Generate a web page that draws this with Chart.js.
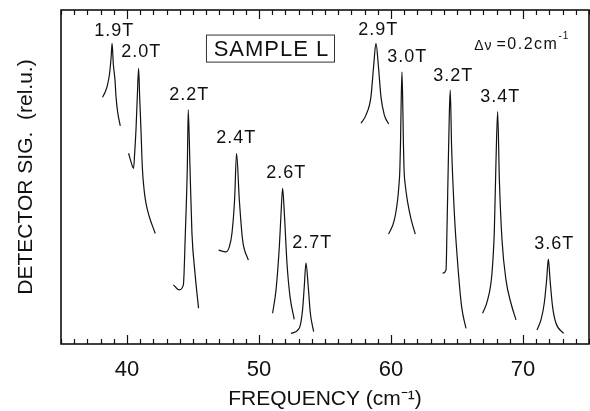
<!DOCTYPE html>
<html>
<head>
  <meta charset="utf-8">
  <title>SAMPLE L</title>
  <script src="https://cdn.jsdelivr.net/npm/chart.js"></script>
  <style>
    html, body { margin: 0; padding: 0; background: #fff; }
    #wrap { width: 590px; height: 411px; }
  </style>
</head>
<body>
<div id="wrap"><canvas id="chart" width="590" height="411"></canvas></div>
<script>
  // 磁場ごとのピーク (x: cm-1, y: 相対値)
  const fields = ['1.9T', '2.0T', '2.2T', '2.4T', '2.6T', '2.7T', '2.9T', '3.0T', '3.2T', '3.4T', '3.6T'];

  const p19x = [38.15, 38.32, 38.52, 38.68, 38.80, 38.87, 38.96, 39.09, 39.17, 39.29, 39.49];
  const p19y = [73.9, 75.2, 77.5, 81.0, 86.0, 90.0, 84.0, 79.0, 74.0, 69.5, 65.3];
  const p20x = [40.12, 40.30, 40.50, 40.58, 40.68, 40.78, 40.88, 40.96, 41.06, 41.16, 41.30, 41.44, 41.69, 42.14];
  const p20y = [57.1, 54.6, 52.6, 57.1, 64.1, 74.0, 82.5, 74.0, 64.1, 53.0, 46.0, 42.1, 38.1, 33.1];
  const p22x = [43.51, 43.96, 44.27, 44.42, 44.57, 44.64, 44.77, 44.92, 45.15, 45.42];
  const p22y = [17.7, 16.2, 17.7, 33.2, 53.1, 70.1, 53.1, 33.2, 21.3, 10.7];
  const p24x = [46.94, 47.50, 47.75, 47.95, 48.15, 48.30, 48.51, 48.76, 49.19];
  const p24y = [28.1, 27.6, 29.1, 33.1, 43.1, 57.1, 43.1, 31.1, 25.1];
  const p26x = [51.03, 51.29, 51.54, 51.67, 51.79, 51.92, 52.12, 52.35, 52.67];
  const p26y = [9.2, 16.2, 29.1, 39.1, 46.6, 39.1, 24.2, 14.2, 7.4];
  const p27x = [52.42, 53.05, 53.30, 53.43, 53.56, 53.73, 53.89, 54.14];
  const p27y = [3.2, 4.7, 10.2, 17.2, 24.3, 17.2, 9.2, 3.7];
  const p29x = [57.73, 58.11, 58.48, 58.68, 58.86, 59.05, 59.24, 59.49, 59.82];
  const p29y = [66.1, 68.6, 74.0, 83.0, 90.0, 83.0, 74.0, 68.6, 65.9];
  const p30x = [59.82, 60.25, 60.50, 60.58, 60.67, 60.72, 60.76, 60.83, 60.90, 60.94, 60.99, 61.08, 61.26, 61.52, 61.84];
  const p30y = [32.9, 37.1, 43.1, 46.5, 52.0, 60.0, 70.0, 81.5, 70.0, 60.0, 52.0, 47.6, 42.5, 37.4, 32.9];
  const p32x = [63.91, 64.17, 64.24, 64.34, 64.42, 64.49, 64.59, 64.80, 65.05, 65.35, 65.68];
  const p32y = [21.2, 22.2, 34.1, 54.1, 69.1, 76.0, 59.1, 39.1, 24.2, 11.2, 4.7];
  const p34x = [66.94, 67.32, 67.65, 67.83, 67.95, 68.08, 68.21, 68.41, 68.71, 69.09, 69.47];
  const p34y = [9.2, 13.2, 21.2, 34.1, 54.1, 69.6, 49.1, 31.1, 19.2, 12.2, 7.2];
  const p36x = [71.06, 71.36, 71.61, 71.79, 71.92, 72.05, 72.24, 72.50, 73.08];
  const p36y = [4.2, 7.2, 12.2, 19.2, 25.4, 19.2, 11.2, 6.2, 3.2];

  const peakXs = [p19x, p20x, p22x, p24x, p26x, p27x, p29x, p30x, p32x, p34x, p36x];
  const peakYs = [p19y, p20y, p22y, p24y, p26y, p27y, p29y, p30y, p32y, p34y, p36y];

  // ラベル位置 (データ座標)
  const labelX = [39.04, 41.08, 44.72, 48.28, 52.07, 54.04, 59.04, 61.23, 64.72, 68.28, 72.37];
  const labelY = [93.7, 87.4, 74.6, 61.7, 51.2, 30.2, 94.0, 85.9, 80.2, 74.0, 29.9];

  const xTickLabels = [40, 50, 60, 70];

  const FONT = "'Liberation Sans', Arial, sans-serif";

  const datasets = fields.map((name, i) => ({
    label: name,
    data: peakXs[i].map((x, j) => ({ x: x, y: peakYs[i][j] })),
    borderColor: '#111',
    borderWidth: 1.2,
    pointRadius: 0,
    fill: false,
    cubicInterpolationMode: 'monotone'
  }));

  // 枠と内向きの目盛り
  const framePlugin = {
    id: 'frame',
    afterDraw(chart) {
      const ctx = chart.ctx;
      const a = chart.chartArea;
      const xs = chart.scales.x;
      ctx.save();
      ctx.strokeStyle = '#111';
      ctx.lineWidth = 1.6;
      ctx.strokeRect(a.left, a.top, a.right - a.left, a.bottom - a.top);
      ctx.lineWidth = 1.2;
      for (let v = 35; v <= 75; v++) {
        const px = Math.round(xs.getPixelForValue(v)) + 0.5;
        const len = v % 10 === 0 ? 9 : 5;
        ctx.beginPath();
        ctx.moveTo(px, a.bottom);
        ctx.lineTo(px, a.bottom - len);
        ctx.moveTo(px, a.top);
        ctx.lineTo(px, a.top + len);
        ctx.stroke();
      }
      ctx.restore();
    }
  };

  // ピーク名・試料名・分解能
  const notesPlugin = {
    id: 'notes',
    afterDatasetsDraw(chart) {
      const ctx = chart.ctx;
      const xs = chart.scales.x, ys = chart.scales.y;
      ctx.save();
      ctx.fillStyle = '#111';
      ctx.textAlign = 'center';
      ctx.textBaseline = 'middle';
      ctx.font = '18px ' + FONT;
      ctx.letterSpacing = '1px';
      fields.forEach((name, i) => {
        ctx.fillText(name, xs.getPixelForValue(labelX[i]), ys.getPixelForValue(labelY[i]));
      });

      // SAMPLE L の枠
      const bx1 = xs.getPixelForValue(46.02), bx2 = xs.getPixelForValue(55.72);
      const by1 = ys.getPixelForValue(92.5), by2 = ys.getPixelForValue(84.4);
      ctx.strokeStyle = '#333';
      ctx.lineWidth = 1;
      ctx.strokeRect(bx1, by1, bx2 - bx1, by2 - by1);
      ctx.font = '22px ' + FONT;
      ctx.letterSpacing = '1px';
      ctx.fillText('SAMPLE L', (bx1 + bx2) / 2 + 1, (by1 + by2) / 2 + 1);

      // Δν = 0.2cm-1
      ctx.textAlign = 'left';
      ctx.letterSpacing = '1px';
      let tx = xs.getPixelForValue(66.30);
      const ty = ys.getPixelForValue(89.3);
      ctx.font = '14px ' + FONT;
      ctx.fillText('Δν', tx, ty);
      tx += ctx.measureText('Δν').width + 4;
      ctx.font = '16px ' + FONT;
      ctx.letterSpacing = '1.5px';
      ctx.fillText('=0.2cm', tx, ty - 1);
      tx += ctx.measureText('=0.2cm').width;
      ctx.font = '10px ' + FONT;
      ctx.letterSpacing = '1px';
      ctx.fillText('-1', tx, ty - 9);
      ctx.restore();
    }
  };

  new Chart(document.getElementById('chart'), {
    type: 'line',
    data: { datasets: datasets },
    options: {
      responsive: false,
      animation: false,
      devicePixelRatio: 1,
      layout: { padding: { top: 10, right: 1, left: 0, bottom: 0 } },
      plugins: { legend: { display: false }, tooltip: { enabled: false } },
      scales: {
        x: {
          type: 'linear',
          min: 35,
          max: 75,
          afterBuildTicks: s => { s.ticks = xTickLabels.map(v => ({ value: v })); },
          afterFit: s => { s.height = 67; },
          grid: { display: false, drawTicks: false },
          border: { display: false },
          ticks: { color: '#111', padding: 13, font: { size: 22, family: FONT } },
          title: {
            display: true,
            text: 'FREQUENCY (cm⁻¹)',
            color: '#111',
            font: { size: 21, family: FONT, lineHeight: 1.1 },
            padding: { top: 0, bottom: 0 }
          }
        },
        y: {
          min: 0,
          max: 100,
          afterFit: s => { s.width = 61; },
          grid: { display: false, drawTicks: false },
          border: { display: false },
          ticks: { display: false },
          title: {
            display: true,
            text: 'DETECTOR SIG.  (rel.u.)',
            color: '#111',
            font: { size: 21, family: FONT, lineHeight: 1.2 },
            padding: { top: 14, bottom: 0 }
          }
        }
      }
    },
    plugins: [framePlugin, notesPlugin]
  });
</script>
</body>
</html>
